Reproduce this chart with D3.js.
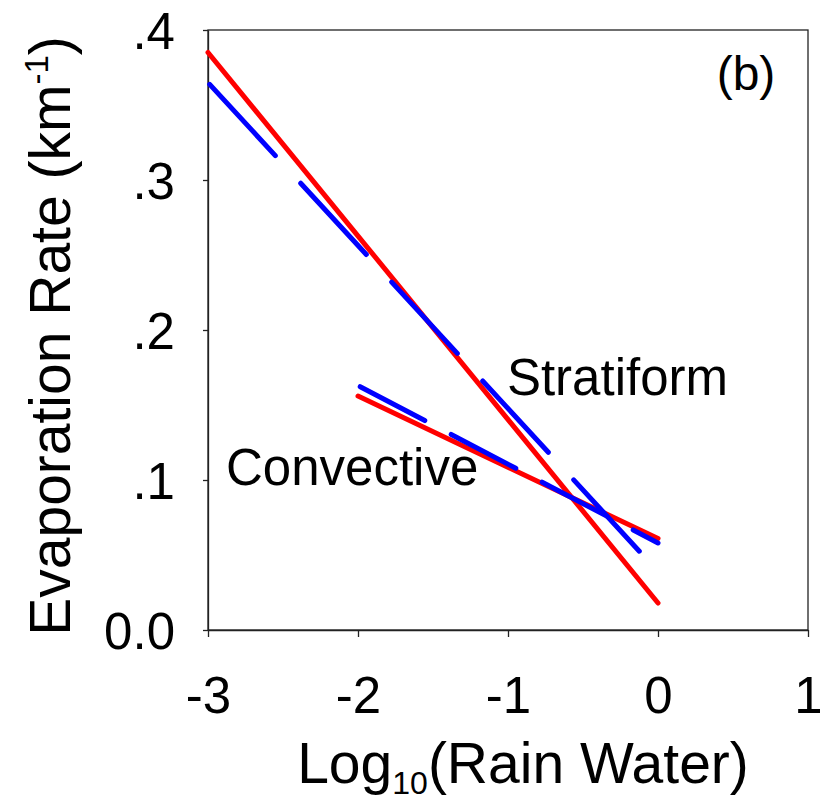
<!DOCTYPE html>
<html>
<head>
<meta charset="utf-8">
<script src="https://cdn.jsdelivr.net/npm/d3@7"></script>
<style>
  html, body { margin: 0; padding: 0; background: #fff; }
  svg { display: block; }
  text { font-family: "Liberation Sans", Arial, Helvetica, sans-serif; fill: #000; }
</style>
</head>
<body>
<svg id="chart" width="820" height="799"></svg>
<script>
// ---- data ----
const xTicks = [-3, -2, -1, 0, 1];
const xTickLabels = ["-3", "-2", "-1", "0", "1"];
const yTicks = [0, 0.1, 0.2, 0.3, 0.4];
const yTickLabels = ["0.0", ".1", ".2", ".3", ".4"];

const stratiformX = [-3, 0];
const stratiformModel = [0.385, 0.018];   // red solid
const stratiformObs = [0.365, 0.039];     // blue dashed

const convectiveX = [-2, 0];
const convectiveModel = [0.156, 0.061];   // red solid
const convectiveObs = [0.163, 0.058];     // blue dashed

const seriesNames = ["Stratiform", "Convective"];
const panelLabel = "(b)";

// ---- layout ----
const svg = d3.select("#chart");
const mLeft = 208, mRight = 808, mTop = 30, mBottom = 630;
const x = d3.scaleLinear().domain([-3, 1]).range([mLeft, mRight]);
const y = d3.scaleLinear().domain([0, 0.4]).range([mBottom, mTop]);

const font = "Liberation Sans, Arial, sans-serif";

// frame
svg.append("rect")
  .attr("x", mLeft).attr("y", mTop)
  .attr("width", mRight - mLeft).attr("height", mBottom - mTop)
  .attr("fill", "none").attr("stroke", "#222").attr("stroke-width", 1.3);

// x axis
const xAxis = d3.axisBottom(x).tickValues(xTicks)
  .tickFormat((d, i) => xTickLabels[i]).tickSizeInner(7).tickSizeOuter(0);
const gx = svg.append("g").attr("transform", `translate(0,${mBottom})`).call(xAxis);
gx.select(".domain").attr("stroke", "#222").attr("stroke-width", 1.3);
gx.selectAll(".tick line").attr("stroke", "#222").attr("stroke-width", 1.3);
gx.selectAll(".tick text")
  .attr("font-family", font).attr("font-size", 51).attr("fill", "#000")
  .attr("dy", null).attr("y", 83);

// y axis
const yAxis = d3.axisLeft(y).tickValues(yTicks)
  .tickFormat((d, i) => yTickLabels[i]).tickSizeInner(5).tickSizeOuter(0);
const gy = svg.append("g").attr("transform", `translate(${mLeft},0)`).call(yAxis);
gy.select(".domain").attr("stroke", "#222").attr("stroke-width", 1.3);
gy.selectAll(".tick line").attr("stroke", "#222").attr("stroke-width", 1.3);
gy.selectAll(".tick text")
  .attr("font-family", font).attr("font-size", 51).attr("fill", "#000")
  .attr("x", -33).attr("dy", "0.36em");

// lines
const line = d3.line().x(d => x(d[0])).y(d => y(d[1]));
const zip = (xs, ys) => xs.map((v, i) => [v, ys[i]]);

const series = [
  { pts: zip(stratiformX, stratiformModel), color: "#ff0000", dashed: false },
  { pts: zip(convectiveX, convectiveModel), color: "#ff0000", dashed: false },
  { pts: zip(stratiformX, stratiformObs), color: "#0000ff", dashed: true },
  { pts: zip(convectiveX, convectiveObs), color: "#0000ff", dashed: true }
];

const sw = 5;
const onX = 69, offX = 22; // dash period measured along the x direction (px)
series.forEach(s => {
  const p = svg.append("path")
    .attr("d", line(s.pts))
    .attr("fill", "none")
    .attr("stroke", s.color)
    .attr("stroke-width", sw)
    .attr("stroke-linecap", "round")
    .attr("stroke-linejoin", "round");
  if (s.dashed) {
    const a = s.pts[0], b = s.pts[s.pts.length - 1];
    const dxp = x(b[0]) - x(a[0]), dyp = y(b[1]) - y(a[1]);
    const k = Math.sqrt(dxp * dxp + dyp * dyp) / Math.abs(dxp);
    p.attr("stroke-dasharray", `${onX * k - sw},${offX * k + sw}`)
     .attr("stroke-dashoffset", -sw / 2);
  }
});

// annotations
svg.append("text").attr("x", x(-1.007)).attr("y", y(0.157))
  .attr("font-size", 51).text(seriesNames[0]);
svg.append("text").attr("x", x(-2.88)).attr("y", y(0.097))
  .attr("font-size", 51).text(seriesNames[1]);
svg.append("text").attr("x", 746).attr("y", 90).attr("text-anchor", "middle")
  .attr("font-size", 48).text(panelLabel);

// axis titles
const xt = svg.append("text").attr("x", 523).attr("y", 783)
  .attr("text-anchor", "middle").attr("font-size", 57);
xt.append("tspan").text("Log");
xt.append("tspan").attr("font-size", 32).attr("dy", 11).text("10");
xt.append("tspan").attr("dy", -11).text("(Rain Water)");

const yt = svg.append("text")
  .attr("transform", "translate(70,336) rotate(-90)")
  .attr("text-anchor", "middle").attr("font-size", 57);
yt.append("tspan").text("Evaporation Rate (km");
yt.append("tspan").attr("font-size", 33).attr("dy", -22).text("-1");
yt.append("tspan").attr("dy", 22).text(")");
</script>
</body>
</html>
